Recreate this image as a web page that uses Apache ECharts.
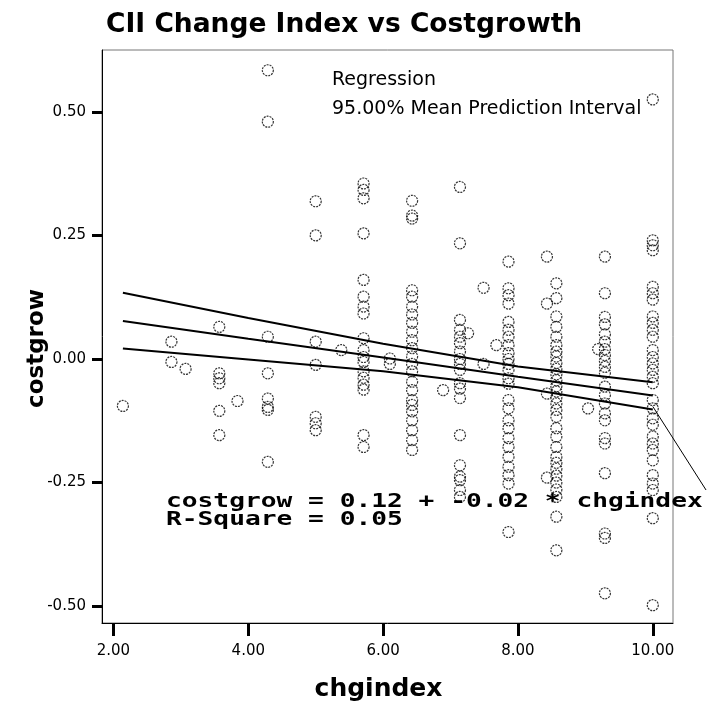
<!DOCTYPE html>
<html>
<head>
<meta charset="utf-8">
<script src="https://cdn.jsdelivr.net/npm/echarts@6/dist/echarts.min.js"></script>
<style>
  html, body { margin: 0; padding: 0; background: #fff; }
  #chart { width: 707px; height: 715px; }
</style>
</head>
<body>
<div id="chart"></div>
<script>
// chgindex values (one entry per column of points)
const chgindex = [2.14, 2.86, 3.07, 3.57, 3.84, 4.29, 5.0, 5.38, 5.71, 6.1, 6.43, 6.89, 7.14, 7.26, 7.49, 7.68, 7.86, 8.43, 8.57, 9.04, 9.19, 9.29, 10.0]
// costgrow values for each chgindex column
const costgrow = [
  [-0.095],
  [0.035, -0.006],
  [-0.02],
  [0.065, -0.029, -0.039, -0.049, -0.105, -0.154],
  [-0.085],
  [0.584, 0.48, 0.045, -0.029, -0.08, -0.097, -0.103, -0.208],
  [0.319, 0.25, 0.035, -0.012, -0.117, -0.13, -0.144],
  [0.018],
  [0.355, 0.342, 0.325, 0.254, 0.16, 0.126, 0.106, 0.092, 0.042, 0.018, 0.004, -0.006, -0.025, -0.038, -0.052, -0.062, -0.154, -0.178],
  [0.001, -0.01],
  [0.32, 0.29, 0.284, 0.139, 0.126, 0.106, 0.09, 0.073, 0.055, 0.038, 0.022, 0.005, -0.01, -0.025, -0.046, -0.063, -0.083, -0.093, -0.106, -0.124, -0.144, -0.164, -0.184],
  [-0.063],
  [0.348, 0.234, 0.079, 0.059, 0.045, 0.032, 0.015, 0.0, -0.01, -0.022, -0.049, -0.06, -0.079, -0.154, -0.215, -0.238, -0.245, -0.265, -0.279],
  [0.052],
  [0.144, -0.01],
  [0.028],
  [0.197, 0.143, 0.129, 0.112, 0.075, 0.059, 0.045, 0.028, 0.012, 0.0, -0.01, -0.022, -0.039, -0.05, -0.083, -0.1, -0.124, -0.14, -0.16, -0.178, -0.198, -0.218, -0.235, -0.252, -0.35],
  [0.207, 0.112, -0.07, -0.24],
  [0.153, 0.123, 0.086, 0.065, 0.045, 0.028, 0.015, 0.005, -0.008, -0.02, -0.031, -0.043, -0.055, -0.066, -0.078, -0.09, -0.103, -0.117, -0.14, -0.157, -0.178, -0.198, -0.21, -0.222, -0.236, -0.25, -0.264, -0.279, -0.319, -0.387],
  [-0.1],
  [0.02],
  [0.207, 0.133, 0.085, 0.07, 0.05, 0.035, 0.02, 0.008, -0.004, -0.016, -0.028, -0.056, -0.073, -0.09, -0.11, -0.124, -0.16, -0.171, -0.231, -0.353, -0.362, -0.474],
  [0.525, 0.24, 0.23, 0.22, 0.146, 0.133, 0.12, 0.086, 0.073, 0.059, 0.045, 0.018, 0.004, -0.009, -0.022, -0.036, -0.049, -0.083, -0.1, -0.12, -0.133, -0.157, -0.171, -0.184, -0.205, -0.235, -0.252, -0.265, -0.322, -0.498],
]

// regression line and 95% mean prediction interval
const fitX = [2.14, 4, 6, 8, 10]
const fitMean = [0.077, 0.041, 0.003, -0.036, -0.074]
const fitUpper = [0.134, 0.083, 0.031, -0.015, -0.047]
const fitLower = [0.021, -0.001, -0.025, -0.057, -0.102]

// leader line from the interval end to the equation label
const leaderX = [10.0, 10.79]
const leaderY = [-0.096, -0.265]

const xTicks = [2, 4, 6, 8, 10]
const yTicks = [-0.5, -0.25, 0, 0.25, 0.5]

const points = []
chgindex.forEach((x, i) => {
  costgrow[i].forEach(y => points.push([x, y]))
})
const pair = (xs, ys) => xs.map((x, i) => [x, ys[i]])

const font = 'DejaVu Sans'
const chart = echarts.init(document.getElementById('chart'))
const option = {
  animation: false,
  title: {
    text: 'CII Change Index vs Costgrowth',
    left: 101,
    top: 7,
    textStyle: { fontFamily: font, fontWeight: 'bold', fontSize: 26.5, color: '#000' },
  },
  legend: {
    orient: 'vertical',
    left: 322,
    top: 64,
    icon: 'none',
    itemWidth: 0,
    itemHeight: 22,
    itemGap: 7,
    selectedMode: false,
    data: ['Regression', '95.00% Mean Prediction Interval'],
    textStyle: { fontFamily: font, fontSize: 19, color: '#000', lineHeight: 22 },
  },
  grid: {
    left: 102,
    right: 34,
    top: 50,
    bottom: 92,
    show: true,
    borderColor: '#777',
    borderWidth: 1,
  },
  xAxis: {
    type: 'value',
    min: 1.83,
    max: 10.3,
    name: 'chgindex',
    nameLocation: 'middle',
    nameGap: 54,
    nameMoveOverlap: false,
    nameTextStyle: { fontFamily: font, fontWeight: 'bold', fontSize: 25, color: '#000', padding: [0, 18, 0, 0] },
    splitLine: { show: false },
    axisLine: { onZero: false, lineStyle: { color: '#000', width: 1 } },
    axisTick: { customValues: xTicks, length: 13, lineStyle: { color: '#000', width: 3 } },
    axisLabel: {
      customValues: xTicks,
      margin: 21,
      fontFamily: font,
      fontSize: 15,
      color: '#000',
      formatter: v => v.toFixed(2),
    },
  },
  yAxis: {
    type: 'value',
    min: -0.534,
    max: 0.625,
    name: 'costgrow',
    nameLocation: 'middle',
    nameGap: 53,
    nameMoveOverlap: false,
    nameTextStyle: { fontFamily: font, fontWeight: 'bold', fontSize: 23, color: '#000', padding: [0, 24, 0, 0] },
    splitLine: { show: false },
    axisLine: { onZero: false, lineStyle: { color: '#000', width: 1 } },
    axisTick: { customValues: yTicks, length: 10, lineStyle: { color: '#000', width: 3 } },
    axisLabel: {
      customValues: yTicks,
      margin: 16,
      fontFamily: font,
      fontSize: 15,
      color: '#000',
      formatter: v => v.toFixed(2),
    },
  },
  series: [
    {
      type: 'scatter',
      data: points,
      symbol: 'circle',
      symbolSize: 11,
      itemStyle: { color: 'rgba(255,255,255,0)', borderColor: '#000', borderWidth: 1.2, borderType: [2, 1] },
    },
    {
      name: 'Regression',
      type: 'line',
      data: pair(fitX, fitMean),
      symbol: 'none',
      lineStyle: { color: '#000', width: 2 },
    },
    {
      name: '95.00% Mean Prediction Interval',
      type: 'line',
      data: pair(fitX, fitUpper),
      symbol: 'none',
      lineStyle: { color: '#000', width: 2 },
    },
    {
      name: '95.00% Mean Prediction Interval',
      type: 'line',
      data: pair(fitX, fitLower),
      symbol: 'none',
      lineStyle: { color: '#000', width: 2 },
    },
  ],
}
chart.setOption(option)

// equation label and its leader line sit partly outside the plot box,
// so the leader is placed through the axis scales after the first render
const leaderPx = pair(leaderX, leaderY).map(p => chart.convertToPixel({ gridIndex: 0 }, p))
chart.setOption({
  graphic: [
    {
      type: 'text',
      x: 166,
      y: 493,
      scaleX: 1.38,
      z: 100,
      style: {
        text: 'costgrow = 0.12 + -0.02 * chgindex\nR-Square = 0.05',
        font: 'bold 19px "DejaVu Sans Mono"',
        lineHeight: 18,
        fill: '#000',
        verticalAlign: 'top',
      },
    },
    {
      type: 'polyline',
      z: 100,
      shape: { points: leaderPx },
      style: { stroke: '#000', lineWidth: 1, fill: null },
    },
  ],
})
</script>
</body>
</html>
